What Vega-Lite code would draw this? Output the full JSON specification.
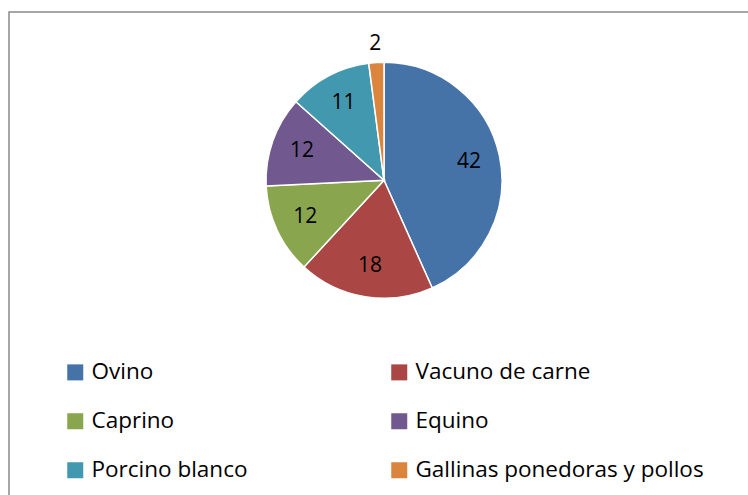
{
  "$schema": "https://vega.github.io/schema/vega-lite/v6.json",
  "autosize": "none",
  "width": 750,
  "height": 495,
  "padding": {"left": 9, "top": 12, "right": 0, "bottom": 0},
  "background": "white",
  "config": {
    "view": {"stroke": null},
    "font": "Open Sans"
  },
  "layer": [
    {
      "data": {"values": [{"marco": "borde"}]},
      "mark": {"type": "rect", "fill": null, "stroke": "#898989", "strokeWidth": 1.5},
      "encoding": {}
    },
    {
      "data": {
        "values": [
          {"especie": "Ovino", "valor": 42, "orden": 1},
          {"especie": "Vacuno de carne", "valor": 18, "orden": 2},
          {"especie": "Caprino", "valor": 12, "orden": 3},
          {"especie": "Equino", "valor": 12, "orden": 4},
          {"especie": "Porcino blanco", "valor": 11, "orden": 5},
          {"especie": "Gallinas ponedoras y pollos", "valor": 2, "orden": 6}
        ]
      },
      "encoding": {
        "theta": {"field": "valor", "type": "quantitative", "stack": true},
        "order": {"field": "orden", "type": "quantitative", "sort": "ascending"}
      },
      "layer": [
        {
          "mark": {"type": "arc", "radius": 118, "y": {"expr": "height * 0.34"}, "stroke": "white", "strokeWidth": 1.5},
          "encoding": {
            "color": {
              "field": "especie",
              "type": "nominal",
              "scale": {
                "domain": ["Ovino", "Vacuno de carne", "Caprino", "Equino", "Porcino blanco", "Gallinas ponedoras y pollos"],
                "range": ["#4572A7", "#AA4643", "#89A54E", "#71588F", "#4198AF", "#DB843D"]
              },
              "legend": {
                "title": null,
                "orient": "none",
                "legendX": 55,
                "legendY": 349,
                "direction": "horizontal",
                "columns": 2,
                "columnPadding": 140,
                "rowPadding": 26,
                "symbolType": "square",
                "symbolSize": 256,
                "symbolStrokeWidth": 0,
                "labelFontSize": 22.5,
                "labelFont": "Open Sans",
                "labelColor": "#000000",
                "labelOffset": 5,
                "labelLimit": 400
              }
            }
          }
        },
        {
          "mark": {"type": "text", "radius": 87, "y": {"expr": "height * 0.34"}, "fontSize": 21, "font": "Open Sans", "color": "#000000"},
          "encoding": {
            "text": {"condition": {"test": "datum.valor >= 5", "field": "valor", "type": "quantitative"}, "value": ""}
          }
        },
        {
          "mark": {"type": "text", "radius": 137, "y": {"expr": "height * 0.34"}, "fontSize": 21, "font": "Open Sans", "color": "#000000"},
          "encoding": {
            "text": {"condition": {"test": "datum.valor < 5", "field": "valor", "type": "quantitative"}, "value": ""}
          }
        }
      ]
    }
  ]
}
